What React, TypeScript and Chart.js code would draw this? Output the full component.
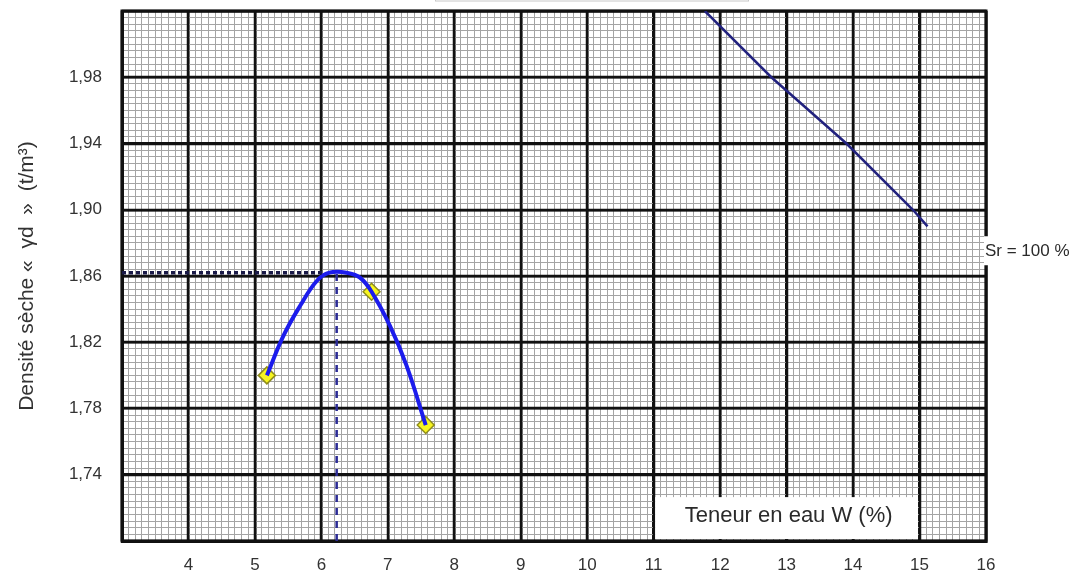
import React, { useEffect, useRef } from "react";
import { Chart, registerables } from "chart.js";

Chart.register(...registerables);

// ---- Data ----
const xMin = 3;
const xMax = 16;
const yMin = 1.7;
const yMax = 2.02;
const xTickLabels = [4, 5, 6, 7, 8, 9, 10, 11, 12, 13, 14, 15, 16];
const yTickLabels = [1.74, 1.78, 1.82, 1.86, 1.9, 1.94, 1.98];

// compaction curve (water content %, dry density t/m3)
const curveW = [5.18, 5.43, 5.68, 5.93, 6.12, 6.38, 6.58, 6.755, 7.03, 7.28, 7.57];
const curveDensity = [1.8, 1.824, 1.842, 1.857, 1.862, 1.862, 1.859, 1.8505, 1.83, 1.806, 1.77];

// measured test points
const testW = [5.18, 6.755, 7.57];
const testDensity = [1.8, 1.8505, 1.77];

// saturation line Sr = 100 %
const satW = [11.77, 12.77, 13.9, 14.9, 15.12];
const satDensity = [2.02, 1.98, 1.94, 1.9, 1.89];

// optimum
const optimumW = 6.23;
const maxDensity = 1.862;
const dashedEndW = 6.05;

const FONT = "'Liberation Sans', Arial, sans-serif";

const isMajorX = (v: number) => Math.abs(v - Math.round(v)) < 1e-6;
const isMajorY = (v: number) => {
  const k = (v - yMin) / 0.04;
  return Math.abs(k - Math.round(k)) < 1e-6;
};

const decorPlugin = {
  id: "decor",
  beforeDatasetsDraw(chart: any) {
    const { ctx, chartArea, scales } = chart;
    const xs = scales.x;
    const ys = scales.y;
    ctx.save();
    // redraw major grid lines above the minor ones
    ctx.strokeStyle = "#111";
    ctx.lineWidth = 2.5;
    ctx.beginPath();
    xs.ticks.forEach((t: any) => {
      if (isMajorX(t.value)) {
        const p = Math.round(xs.getPixelForValue(t.value));
        ctx.moveTo(p, chartArea.top);
        ctx.lineTo(p, chartArea.bottom);
      }
    });
    ys.ticks.forEach((t: any) => {
      if (isMajorY(t.value)) {
        const p = Math.round(ys.getPixelForValue(t.value));
        ctx.moveTo(chartArea.left, p);
        ctx.lineTo(chartArea.right, p);
      }
    });
    ctx.stroke();
    // border
    ctx.lineWidth = 3;
    ctx.strokeRect(chartArea.left, chartArea.top, chartArea.right - chartArea.left, chartArea.bottom - chartArea.top);

    // x-axis caption box
    const bx1 = xs.getPixelForValue(11) + 1.5;
    const bx2 = xs.getPixelForValue(15) - 1.5;
    const by1 = ys.getPixelForValue(1.7265);
    const by2 = chartArea.bottom - 2;
    ctx.fillStyle = "#ffffff";
    ctx.fillRect(bx1, by1, bx2 - bx1, by2 - by1);
    ctx.fillStyle = "#2a2a2a";
    ctx.font = `22px ${FONT}`;
    ctx.textAlign = "center";
    ctx.textBaseline = "middle";
    ctx.fillText("Teneur en eau W (%)", (bx1 + bx2) / 2 + 2, (by1 + by2) / 2 - 2);

    // Sr = 100 % label
    const sy1 = ys.getPixelForValue(1.884);
    const sy2 = ys.getPixelForValue(1.8665);
    const sx = chartArea.right - 2;
    ctx.fillStyle = "#ffffff";
    ctx.fillRect(sx, sy1, 95, sy2 - sy1);
    ctx.fillStyle = "#2a2a2a";
    ctx.font = `17px ${FONT}`;
    ctx.textAlign = "left";
    ctx.fillText("Sr = 100 %", sx + 1, (sy1 + sy2) / 2 + 1);

    // remnant of a title box above the plot
    ctx.strokeStyle = "#c8c8c8";
    ctx.lineWidth = 1;
    ctx.strokeRect(435.5, -6, 313, 7);
    ctx.restore();
  },
};

export default function App() {
  const canvasRef = useRef<HTMLCanvasElement>(null);

  useEffect(() => {
    if (!canvasRef.current) return;
    const chart = new Chart(canvasRef.current, {
      type: "scatter",
      data: {
        datasets: [
          {
            label: "horizontal",
            data: [
              { x: xMin, y: maxDensity },
              { x: dashedEndW, y: maxDensity },
            ],
            showLine: true,
            borderColor: "#1a1a48",
            borderWidth: 3.5,
            borderDash: [4, 3],
            pointRadius: 0,
          },
          {
            label: "vertical",
            data: [
              { x: optimumW, y: yMin },
              { x: optimumW, y: maxDensity },
            ],
            showLine: true,
            borderColor: "#2b2b95",
            borderWidth: 2.5,
            borderDash: [7, 6],
            pointRadius: 0,
          },
          {
            label: "Sr = 100 %",
            data: satW.map((w, i) => ({ x: w, y: satDensity[i] })),
            showLine: true,
            borderColor: "#22227e",
            borderWidth: 2.5,
            pointRadius: 0,
          },
          {
            label: "curve",
            data: curveW.map((w, i) => ({ x: w, y: curveDensity[i] })),
            showLine: true,
            tension: 0.4,
            borderColor: "#1c1cec",
            borderWidth: 4,
            pointRadius: 0,
          },
          {
            label: "tests",
            data: testW.map((w, i) => ({ x: w, y: testDensity[i] })),
            showLine: false,
            pointStyle: "rectRot",
            pointRadius: 8.5,
            pointBackgroundColor: "#f7f520",
            pointBorderColor: "#8f8c1c",
            pointBorderWidth: 1.5,
          },
        ],
      },
      options: {
        animation: false,
        responsive: false,
        layout: { padding: { left: 0, right: 100, top: 11, bottom: 0 } },
        plugins: { legend: { display: false }, tooltip: { enabled: false }, title: { display: false } },
        scales: {
          x: {
            type: "linear",
            min: xMin,
            max: xMax,
            afterFit: (s: any) => {
              s.height = 35;
              s.paddingLeft = 0;
              s.paddingRight = 0;
            },
            ticks: {
              stepSize: 0.1,
              maxTicksLimit: 1000,
              autoSkip: false,
              maxRotation: 0,
              padding: 14,
              color: "#333",
              font: { family: FONT, size: 17 },
              callback: (v: any) => {
                const n = Math.round(v);
                return isMajorX(v) && xTickLabels.includes(n) ? String(n) : "";
              },
            },
            grid: {
              drawTicks: false,
              color: (c: any) => (isMajorX(c.tick.value) ? "#111" : "#a4a4a4"),
              lineWidth: (c: any) => (isMajorX(c.tick.value) ? 2.5 : 1),
            },
            border: { color: "#111", width: 3 },
          },
          y: {
            type: "linear",
            min: yMin,
            max: yMax,
            afterFit: (s: any) => {
              s.width = 122;
              s.paddingTop = 0;
              s.paddingBottom = 0;
            },
            ticks: {
              stepSize: 0.004,
              maxTicksLimit: 1000,
              autoSkip: false,
              padding: 20,
              color: "#333",
              font: { family: FONT, size: 17 },
              callback: (v: any) => {
                if (!isMajorY(v)) return "";
                const lbl = yTickLabels.find((t) => Math.abs(t - v) < 1e-6);
                return lbl === undefined ? "" : lbl.toFixed(2).replace(".", ",");
              },
            },
            grid: {
              drawTicks: false,
              color: (c: any) => (isMajorY(c.tick.value) ? "#111" : "#a4a4a4"),
              lineWidth: (c: any) => (isMajorY(c.tick.value) ? 2.5 : 1),
            },
            border: { color: "#111", width: 3 },
            title: {
              display: true,
              text: "Densité sèche «  γd  »  (t/m³)",
              color: "#333",
              font: { family: FONT, size: 21 },
              padding: { top: 15, bottom: 0 },
            },
          },
        },
      },
      plugins: [decorPlugin],
    });
    return () => chart.destroy();
  }, []);

  return (
    <div style={{ position: "absolute", left: 0, top: 0, width: 1086, height: 576, background: "#fff" }}>
      <canvas ref={canvasRef} width={1086} height={576} />
    </div>
  );
}
